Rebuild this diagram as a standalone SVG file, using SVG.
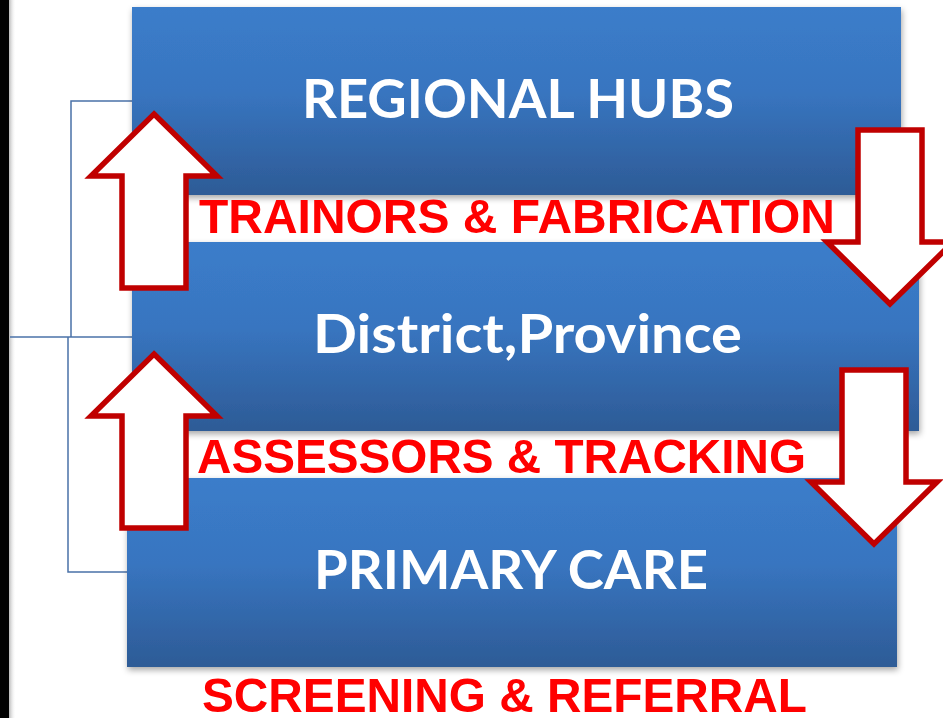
<svg xmlns="http://www.w3.org/2000/svg" width="943" height="718" viewBox="0 0 943 718">
<defs>
<linearGradient id="boxGrad" x1="0" y1="0" x2="0" y2="1">
<stop offset="0" stop-color="#3b7dca"/>
<stop offset="0.45" stop-color="#3875c0"/>
<stop offset="1" stop-color="#2d5b96"/>
</linearGradient>
<linearGradient id="edgeShade" x1="0" y1="0" x2="1" y2="0">
<stop offset="0" stop-color="#999999" stop-opacity="0.7"/>
<stop offset="1" stop-color="#ffffff" stop-opacity="0"/>
</linearGradient>
<filter id="shadow" x="-5%" y="-10%" width="112%" height="125%">
<feDropShadow dx="1" dy="3" stdDeviation="3" flood-color="#000" flood-opacity="0.35"/>
</filter>
<path id="arrow" d="M0,4 L63,66 L32,66 L32,178 L-32,178 L-32,66 L-63,66 Z"/>
<style>
.box{fill:url(#boxGrad);filter:url(#shadow);}
.btxt{font-family:Lato,"Open Sans","Liberation Sans",sans-serif;font-weight:bold;fill:#ffffff;text-anchor:start;}
.rtxt{font-family:"Liberation Sans",Arial,sans-serif;font-weight:bold;fill:#ff0000;font-size:49px;}
.conn{fill:none;stroke:#4a72a8;stroke-width:1.5;}
.arr{fill:#ffffff;stroke:#c00000;stroke-width:5.5;stroke-linejoin:miter;stroke-miterlimit:10;}
</style>
</defs>
<rect x="0" y="0" width="943" height="718" fill="#ffffff"/>
<rect x="9" y="0" width="7" height="718" fill="url(#edgeShade)"/>
<rect x="0" y="0" width="9" height="718" fill="#000000"/>

<g id="connectors">
<path class="conn" d="M132,101 H71 V337"/>
<path class="conn" d="M10,337 H132"/>
<path class="conn" d="M68,337 V572 H127"/>
</g>

<g id="node-regional">
<rect class="box" x="132" y="7" width="769" height="188"/>
<text class="btxt" x="302" y="118" font-size="54" textLength="432" lengthAdjust="spacingAndGlyphs">REGIONAL HUBS</text>
</g>
<g id="node-district">
<rect class="box" x="132" y="242" width="787" height="189"/>
<text class="btxt" x="313" y="353" font-size="53" textLength="429" lengthAdjust="spacingAndGlyphs">District,Province</text>
</g>
<g id="node-primary">
<rect class="box" x="127" y="478" width="770" height="189"/>
<text class="btxt" x="314" y="589" font-size="53" textLength="394" lengthAdjust="spacingAndGlyphs">PRIMARY CARE</text>
</g>

<g id="labels">
<text class="rtxt" x="199" y="233" textLength="636" lengthAdjust="spacingAndGlyphs">TRAINORS &amp; FABRICATION</text>
<text class="rtxt" x="197" y="473" textLength="609" lengthAdjust="spacingAndGlyphs">ASSESSORS &amp; TRACKING</text>
<text class="rtxt" x="202" y="712" textLength="605" lengthAdjust="spacingAndGlyphs">SCREENING &amp; REFERRAL</text>
</g>

<g id="arrows">
<use href="#arrow" class="arr" transform="translate(154,110)"/>
<use href="#arrow" class="arr" transform="translate(154,350)"/>
<use href="#arrow" class="arr" transform="translate(890,308) rotate(180)"/>
<use href="#arrow" class="arr" transform="translate(874,548) rotate(180)"/>
</g>
</svg>
